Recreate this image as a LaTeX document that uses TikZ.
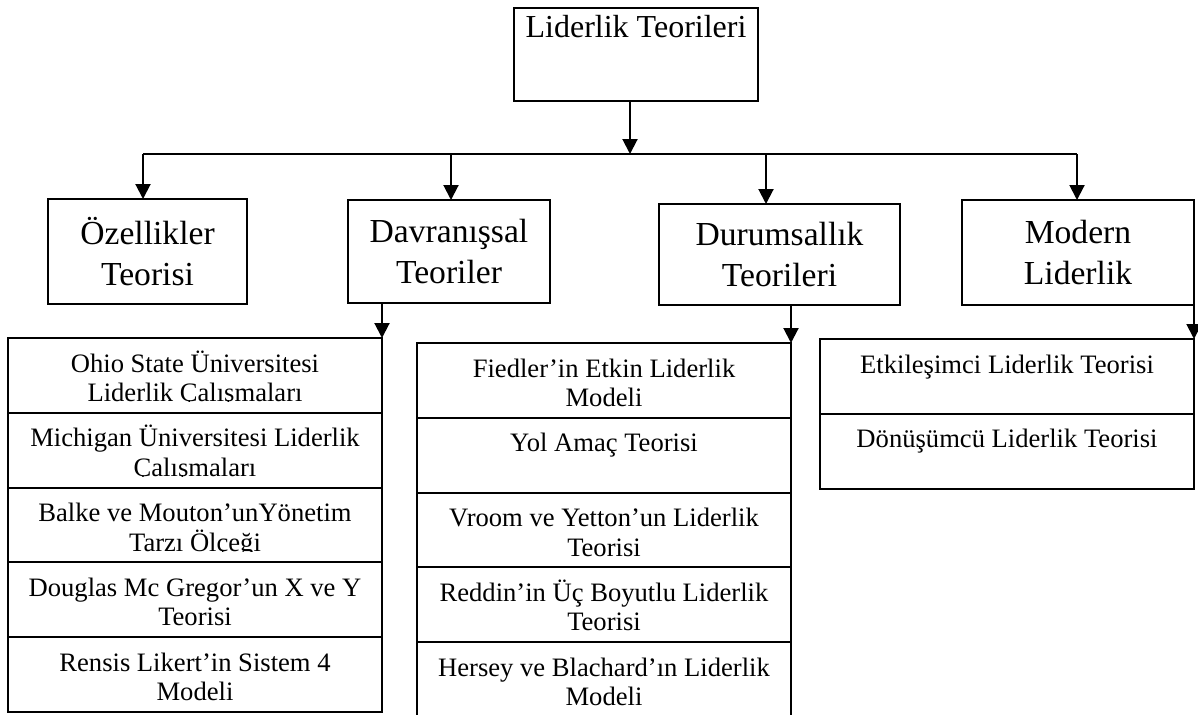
\documentclass[tikz,border=0pt]{standalone}
\usepackage{fontspec}
\setmainfont{Liberation Serif}
\usepackage{tikz}
\usetikzlibrary{
    arrows.meta,
    shapes,
    positioning,
    calc
}
\newcommand{\catfont}{\fontsize{16.8}{20.5}\selectfont}
\newcommand{\rowfont}{\fontsize{13.3}{14.75}\selectfont}

\begin{document}
\begin{tikzpicture}[x=0.5pt, y=-0.5pt, line width=1pt, >={Triangle[width=7.5pt,length=7.5pt]},
                cat-node/.style={rectangle, draw=black, line width=1.2pt, align=center, inner sep=0pt, outer sep=0pt, font=\catfont},
                row-node/.style={rectangle, draw=black, line width=1pt, minimum width=187pt, minimum height=37.4pt, inner sep=0pt, outer sep=0pt,
                    path picture={
                        \clip ([yshift=5.5pt]path picture bounding box.south west) rectangle (path picture bounding box.north east);
                        \node [anchor=base, inner sep=0pt, font=\rowfont] at ([yshift=-17pt]path picture bounding box.north) {\parbox[t]{180pt}{\centering #1}};
                    }}]
                \useasboundingbox (0,0) rectangle (1198,714);
                % top
                \node [cat-node, font=\fontsize{16}{20}\selectfont, minimum width=122pt, text height=14.5pt, text depth=32pt] (theories) at (636,8) [anchor=north] {Liderlik Teorileri};
                % main groups
                \node [cat-node, minimum width=99.5pt, minimum height=52.5pt] (traits) at (147.5,251.5) {Özellikler\\ Teorisi};
                \node [cat-node, minimum width=101pt, minimum height=51.5pt] (behav) at (449,251.5) {Davranışsal\\ Teoriler};
                \node [cat-node, minimum width=120.5pt, minimum height=50.5pt] (contin) at (779.5,254.5) {Durumsallık\\ Teorileri};
                \node [cat-node, minimum width=116pt, minimum height=52.5pt] (modern) at (1078,252.5) {Modern\\ Liderlik};
                % lists
                \node [row-node={Ohio State Üniversitesi\\ Liderlik Çalışmaları}] (behav1) at (195,375.4) {};
                \node [row-node={Michigan Üniversitesi Liderlik\\ Çalışmaları}, below=0pt of behav1] (behav2) {};
                \node [row-node={Balke ve Mouton’unYönetim\\ Tarzı Ölçeği}, below=0pt of behav2] (behav3) {};
                \node [row-node={Douglas Mc Gregor’un X ve Y\\ Teorisi}, below=0pt of behav3] (behav4) {};
                \node [row-node={Rensis Likert’in Sistem 4\\ Modeli}, below=0pt of behav4] (behav5) {};
                \node [row-node={Fiedler’in Etkin Liderlik\\ Modeli}] (cont1) at (604,380.4) {};
                \node [row-node={Yol Amaç Teorisi}, below=0pt of cont1] (cont2) {};
                \node [row-node={Vroom ve Yetton’un Liderlik\\ Teorisi}, below=0pt of cont2] (cont3) {};
                \node [row-node={Reddin’in Üç Boyutlu Liderlik\\ Teorisi}, below=0pt of cont3] (cont4) {};
                \node [row-node={Hersey ve Blachard’ın Liderlik\\ Modeli}, below=0pt of cont4] (cont5) {};
                \node [row-node={Etkileşimci Liderlik Teorisi}] (mod1) at (1007,376.4) {};
                \node [row-node={Dönüşümcü Liderlik Teorisi}, below=0pt of mod1] (mod2) {};
                % connectors
                \coordinate (hub) at (630,154);
                \coordinate (b1) at (143,154);
                \coordinate (b2) at (451,154);
                \coordinate (b3) at (766,154);
                \coordinate (b4) at (1077,154);
                \draw [->] (hub |- theories.south) -- (hub);
                \draw (b1) -- (b4);
                \draw [->] (b1) -- (b1 |- traits.north);
                \draw [->] (b2) -- (b2 |- behav.north);
                \draw [->] (b3) -- (b3 |- contin.north);
                \draw [->] (b4) -- (b4 |- modern.north);
                \draw [->] (behav.south -| behav1.east) -- (behav1.north east);
                \draw [->] (contin.south -| cont1.east) -- (cont1.north east);
                \draw [->] (modern.south east) -- (mod1.north east);
            \end{tikzpicture}
\end{document}
